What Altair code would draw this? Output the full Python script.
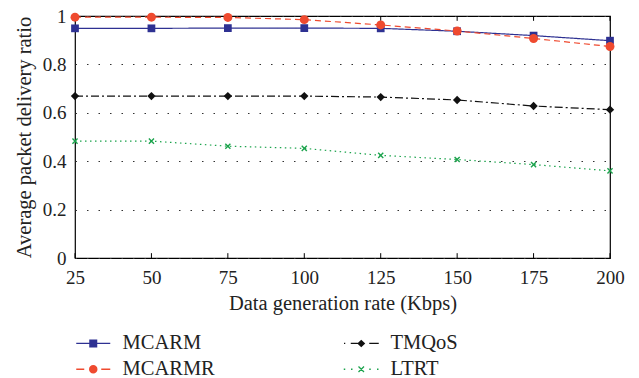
import altair as alt
import pandas as pd

# ---- data ----
rates = [25, 50, 75, 100, 125, 150, 175, 200]
mcarm = [0.949, 0.949, 0.950, 0.950, 0.949, 0.937, 0.919, 0.898]
mcarmr = [0.995, 0.995, 0.994, 0.985, 0.963, 0.938, 0.907, 0.874]
tmqos = [0.669, 0.669, 0.669, 0.669, 0.665, 0.653, 0.628, 0.613]
ltrt = [0.483, 0.483, 0.462, 0.453, 0.424, 0.407, 0.386, 0.360]

series_names = ["MCARM", "MCARMR", "TMQoS", "LTRT"]
series_colors = ["#2e3192", "#ef4a2f", "#111111", "#1ba34c"]
y_tick_values = [0, 0.2, 0.4, 0.6, 0.8, 1.0]
x_tick_values = rates

values = {"MCARM": mcarm, "MCARMR": mcarmr, "TMQoS": tmqos, "LTRT": ltrt}
rows = []
for s in series_names:
    for r, v in zip(rates, values[s]):
        rows.append({"series": s, "rate": r, "value": v})
df = pd.DataFrame(rows)

tick_rows = []
for r in x_tick_values:
    tick_rows.append({"rate": r, "lo": 0.0, "hi": 0.02})
    tick_rows.append({"rate": r, "lo": 0.98, "hi": 1.0})
ticks_df = pd.DataFrame(tick_rows)

FONT = "Liberation Serif"

# ---- legend glyphs (line sample + marker), built only from filled sub-paths ----
H = 0.13


def seg(x0, x1):
    return f"M{x0},{-H}H{x1}V{H}H{x0}Z"


CROSS = ("M-0.458,-0.642L0.642,0.458L0.458,0.642L-0.642,-0.458Z"
         "M0.642,-0.458L-0.458,0.642L-0.642,0.458L0.458,-0.642Z")
legend_shapes = [
    seg(-3.4, 3.4) + "M-0.8,-0.8H0.8V0.8H-0.8Z",
    seg(-3.4, -1.8) + seg(1.6, 3.4)
    + "M-0.85,0A0.85,0.85,0,1,0,0.85,0A0.85,0.85,0,1,0,-0.85,0Z",
    seg(-3.45, -3.2) + seg(-2.1, -0.7) + seg(1.6, 3.5) + "M-0.8,0L0,-0.75L0.8,0L0,0.75Z",
    seg(-3.5, -3.2) + seg(-2.05, -1.75) + seg(1.6, 1.9) + seg(3.15, 3.45) + CROSS,
]

x_scale = alt.Scale(domain=[25, 200], nice=False, zero=False)
y_scale = alt.Scale(domain=[0, 1], nice=False)

x_enc = alt.X("rate:Q", scale=x_scale,
              axis=alt.Axis(values=x_tick_values, title="Data generation rate (Kbps)",
                            grid=False, ticks=False, tickSize=0, domain=False,
                            labelFlush=False, labelPadding=10, titlePadding=6))
y_enc = alt.Y("value:Q", scale=y_scale,
              axis=alt.Axis(values=y_tick_values, format="~g",
                            title="Average packet delivery ratio",
                            grid=True, gridDash=[1.5, 10], gridColor="#333333",
                            gridWidth=1, ticks=False, tickSize=0, domain=False,
                            labelFlush=False, labelPadding=9, titlePadding=8))

ticks = alt.Chart(ticks_df).mark_rule(color="black", strokeWidth=1).encode(
    x=alt.X("rate:Q", scale=x_scale),
    y=alt.Y("lo:Q", scale=y_scale),
    y2="hi:Q",
)


def series_line(name, color, dash):
    return alt.Chart(df).transform_filter(alt.datum.series == name).mark_line(
        color=color, strokeDash=dash, strokeWidth=1.2
    ).encode(x=x_enc, y=y_enc)


def markers(name, color, **kw):
    return alt.Chart(df).transform_filter(alt.datum.series == name).mark_point(
        color=color, opacity=1, **kw
    ).encode(x="rate:Q", y="value:Q")


l_tmqos = series_line("TMQoS", "#111111", [8, 3, 2, 3])
l_ltrt = series_line("LTRT", "#1ba34c", [1.5, 3.5])
l_mcarm = series_line("MCARM", "#2e3192", [1, 0])
l_mcarmr = series_line("MCARMR", "#ef4a2f", [6, 4])

m_mcarm = markers("MCARM", "#2e3192", shape="square", size=60, filled=True)
m_mcarmr = markers("MCARMR", "#ef4a2f", shape="circle", size=80, filled=True)
m_tmqos = markers("TMQoS", "#111111", shape="diamond", size=70, filled=True)
m_ltrt = markers("LTRT", "#1ba34c", shape="M-1,-1L1,1M1,-1L-1,1", size=26,
                 filled=False, strokeWidth=1.4)

legend_def = alt.Legend(orient="none", legendX=8, legendY=317,
                        columns=2, direction="vertical",
                        symbolSize=100, labelOffset=19,
                        columnPadding=128, rowPadding=5,
                        labelFont=FONT, labelFontSize=20.5,
                        labelColor="#222222", padding=0,
                        symbolStrokeWidth=0, symbolOpacity=1)

color_scale = alt.Scale(domain=series_names, range=series_colors)

legend_layer = alt.Chart(df).transform_filter("false").mark_point(
    filled=True, opacity=1
).encode(
    x="rate:Q",
    y="value:Q",
    color=alt.Color("series:N", scale=color_scale, title=None, legend=legend_def),
    shape=alt.Shape("series:N", title=None,
                    scale=alt.Scale(domain=series_names, range=legend_shapes),
                    legend=legend_def),
)

chart = alt.layer(
    ticks, l_tmqos, l_ltrt, l_mcarm, l_mcarmr,
    m_tmqos, m_ltrt, m_mcarm, m_mcarmr, legend_layer
).properties(
    width=535, height=242,
    autosize=alt.AutoSizeParams(type="none"),
    padding={"left": 67, "top": 8, "right": 21, "bottom": 120},
).configure_view(
    stroke="black", strokeWidth=1.2
).configure_axis(
    labelFont=FONT, labelFontSize=19, labelColor="#222222",
    titleFont=FONT, titleFontSize=20.5, titleFontWeight="normal", titleColor="#222222",
)

chart.save("out.html", embed_options={"renderer": "svg", "actions": False})
